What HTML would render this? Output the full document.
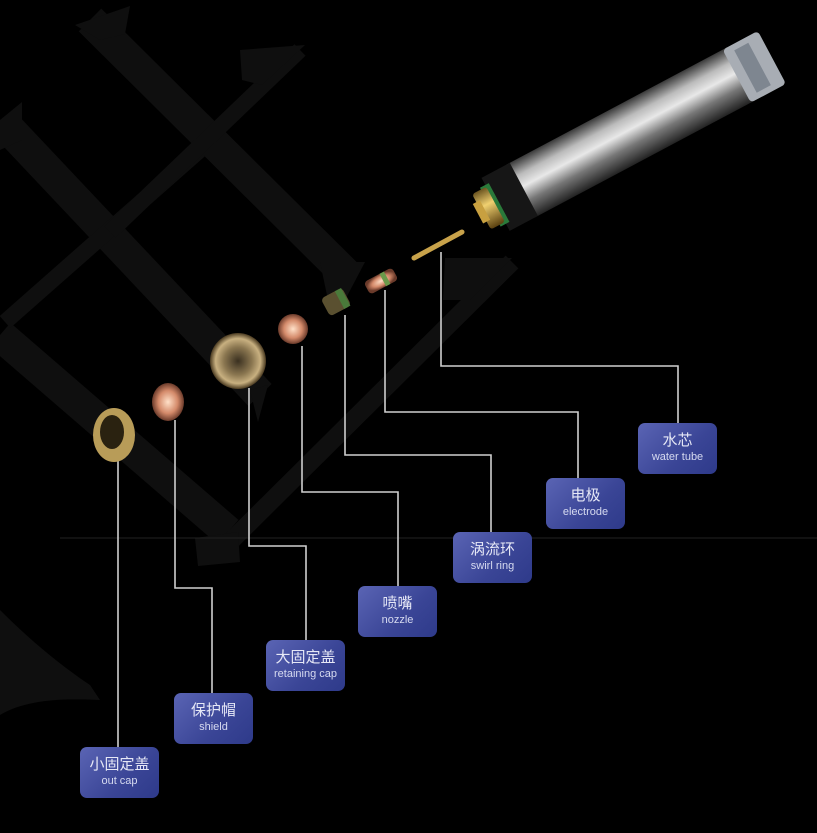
<!DOCTYPE html>
<html><head><meta charset="utf-8"><style>
body{margin:0;background:#000;width:817px;height:833px;overflow:hidden;position:relative;font-family:"Liberation Sans","Noto Sans CJK SC",sans-serif}
.b{position:absolute;width:79px;height:51px;border-radius:7px;background:linear-gradient(135deg,#5a64b4,#3a4596 60%,#2e3a8a);color:#e6e8f6;text-align:center;box-sizing:border-box;padding-top:9px}
.b .c{font-size:15px;line-height:18px}
.b .e{font-size:11px;line-height:15px;color:#d6daf0}
</style></head><body>
<svg width="817" height="833" style="position:absolute;left:0;top:0">
<defs>
<linearGradient id="sil" x1="0" y1="0" x2="0" y2="1"><stop offset="0" stop-color="#3a3a3a"/><stop offset=".25" stop-color="#bbb"/><stop offset=".45" stop-color="#e8e8e8"/><stop offset=".7" stop-color="#777"/><stop offset="1" stop-color="#222"/></linearGradient>
<linearGradient id="gold" x1="0" y1="0" x2="0" y2="1"><stop offset="0" stop-color="#6b5420"/><stop offset=".4" stop-color="#f0d070"/><stop offset="1" stop-color="#5a4010"/></linearGradient>
<radialGradient id="cop"><stop offset="0" stop-color="#ffe0c8"/><stop offset=".6" stop-color="#d48a6a"/><stop offset="1" stop-color="#6a3a2a"/></radialGradient>
<radialGradient id="brz"><stop offset="0" stop-color="#3a3020"/><stop offset=".5" stop-color="#8a7650"/><stop offset=".8" stop-color="#c8b080"/><stop offset="1" stop-color="#4a3a20"/></radialGradient>
</defs>
<g stroke="#0f0f0f" stroke-linecap="butt" fill="none">
<line x1="90" y1="20" x2="350" y2="278" stroke-width="32"/>
<line x1="10" y1="130" x2="260" y2="395" stroke-width="32"/>
<line x1="0" y1="335" x2="228" y2="532" stroke-width="32"/>
<line x1="5" y1="322" x2="200" y2="150" stroke-width="16"/>
<line x1="110" y1="232" x2="300" y2="50" stroke-width="16"/>
<line x1="232" y1="540" x2="512" y2="262" stroke-width="18"/>
</g>
<g fill="#0f0f0f">
<polygon points="75,25 130,6 125,34 100,40"/>
<polygon points="240,50 305,45 262,85 242,80"/>
<polygon points="0,120 22,102 22,140 0,150"/>
<polygon points="445,258 512,258 470,300 443,300"/>
<polygon points="195,538 238,532 240,562 198,566"/>
<polygon points="250,390 268,385 258,422"/>
<polygon points="320,262 365,262 345,300 328,300"/>
<path d="M0,610 C30,640 60,665 90,685 L100,700 C60,698 25,700 0,715 Z"/>
</g>
<line x1="60" y1="538" x2="817" y2="538" stroke="#222" stroke-width="1"/>
<g stroke="#cfcfcf" stroke-width="1.6" fill="none">
<polyline points="118,460 118,747"/>
<polyline points="175,420 175,588 212,588 212,693"/>
<polyline points="249,388 249,546 306,546 306,640"/>
<polyline points="302,346 302,492 398,492 398,586"/>
<polyline points="345,315 345,455 491,455 491,532"/>
<polyline points="385,290 385,412 578,412 578,478"/>
<polyline points="441,252 441,366 678,366 678,423"/>
</g>
<g transform="translate(485,210) rotate(-28)">
<rect x="40" y="-30" width="250" height="60" fill="url(#sil)"/>
<rect x="285" y="-30" width="40" height="60" rx="4" fill="#a8adb4"/>
<rect x="295" y="-24" width="16" height="48" fill="#7e8690"/>
<rect x="12" y="-30" width="32" height="60" fill="#161616"/>
<rect x="6" y="-22" width="10" height="44" fill="#2a7a3a"/>
<rect x="-4" y="-20" width="16" height="40" rx="3" fill="url(#gold)"/>
<rect x="-8" y="-11" width="8" height="22" fill="#c8a040"/>
</g>
<line x1="414" y1="258" x2="462" y2="232" stroke="#c8a24a" stroke-width="5" stroke-linecap="round"/>
<g transform="translate(381,281) rotate(-28)"><rect x="-16" y="-7" width="32" height="14" rx="4" fill="url(#cop)"/><rect x="2" y="-7" width="5" height="14" fill="#6a9a4a"/></g>
<g transform="translate(336,302) rotate(-28)"><rect x="-12" y="-10" width="24" height="20" rx="4" fill="#5a5030"/><rect x="4" y="-10" width="7" height="20" fill="#4a7a3a"/></g>
<ellipse cx="293" cy="329" rx="15" ry="15" fill="url(#cop)"/>
<ellipse cx="238" cy="361" rx="28" ry="28" fill="url(#brz)"/>
<ellipse cx="168" cy="402" rx="16" ry="19" fill="url(#cop)"/>
<ellipse cx="114" cy="435" rx="21" ry="27" fill="#b89c58"/>
<ellipse cx="112" cy="432" rx="12" ry="17" fill="#2a2210"/>
</svg>
<div class="b" style="left:80px;top:747px"><div class="c">小固定盖</div><div class="e">out cap</div></div>
<div class="b" style="left:174px;top:693px"><div class="c">保护帽</div><div class="e">shield</div></div>
<div class="b" style="left:266px;top:640px"><div class="c">大固定盖</div><div class="e">retaining cap</div></div>
<div class="b" style="left:358px;top:586px"><div class="c">喷嘴</div><div class="e">nozzle</div></div>
<div class="b" style="left:453px;top:532px"><div class="c">涡流环</div><div class="e">swirl ring</div></div>
<div class="b" style="left:546px;top:478px"><div class="c">电极</div><div class="e">electrode</div></div>
<div class="b" style="left:638px;top:423px"><div class="c">水芯</div><div class="e">water tube</div></div>
</body></html>
